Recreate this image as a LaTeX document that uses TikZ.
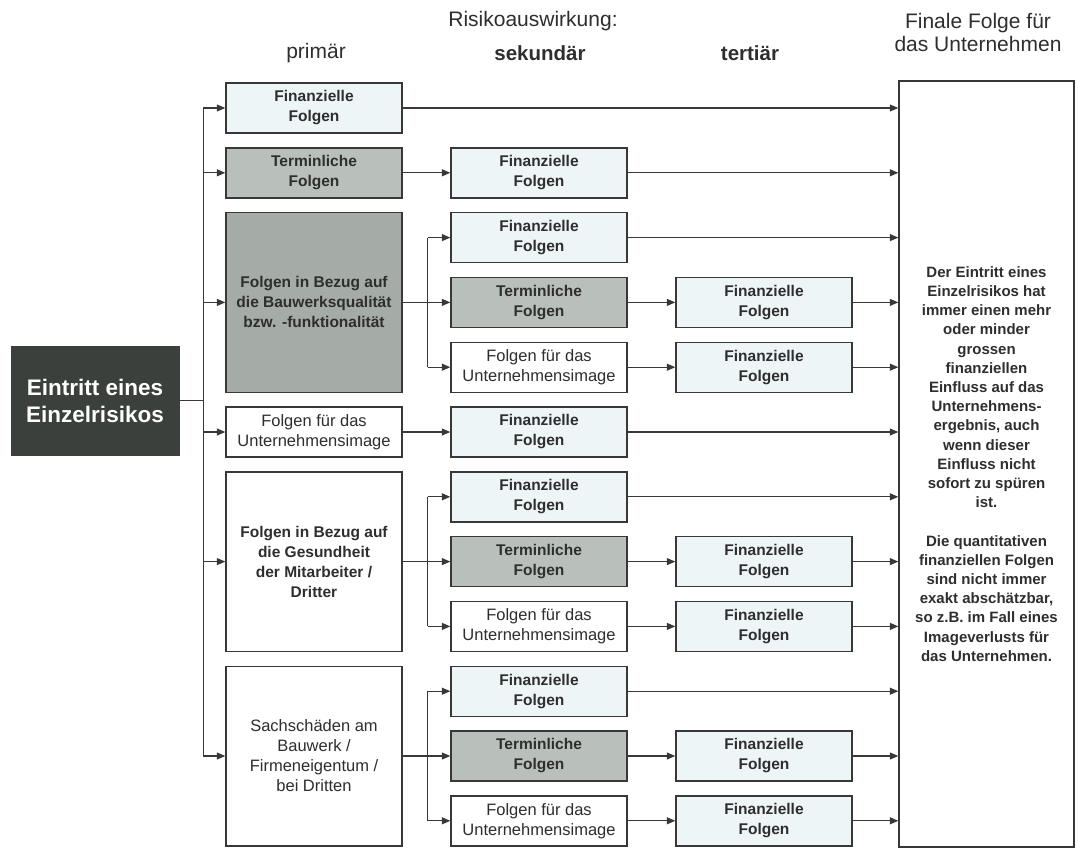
\documentclass[tikz,border=0pt]{standalone}
\usepackage{fontspec}
\setmainfont{Liberation Sans}
\usetikzlibrary{arrows.meta, positioning}

\definecolor{riskdark}{HTML}{3C403D}
\definecolor{finfill}{HTML}{EEF5F6}
\definecolor{termfill}{HTML}{B9C0BC}
\definecolor{qualfill}{HTML}{A5ABA7}
\definecolor{linegray}{HTML}{383838}
\definecolor{textgray}{HTML}{2E2E2E}

\tikzset{
  box/.style={draw=linegray, line width=1.4pt, minimum width=176pt, minimum height=50pt,
    inner sep=2pt, align=center, text=textgray, font=\fontsize{15.5}{20}\selectfont\bfseries},
  finbox/.style={box, fill=finfill},
  termbox/.style={box, fill=termfill},
  imagebox/.style={box, fill=white, font=\fontsize{16.5}{20}\selectfont},
  tallbox/.style={minimum height=179.6pt},
  heading/.style={text=textgray, align=center, font=\fontsize{21}{23}\selectfont},
  boldheading/.style={heading, font=\fontsize{20.5}{23}\selectfont\bfseries},
  wire/.style={draw=linegray, line width=1.1pt},
  flow/.style={wire, arrows = {-Triangle[length=8.5pt, width=7pt]}},
}

\begin{document}
\begin{tikzpicture}[x=1pt, y=1pt, node distance=225pt]
    \useasboundingbox (0,0) rectangle (1078,-849);

    % Headings
    \node[heading] (effect head) at (533,-21) {Risikoauswirkung:};
    \node[heading] (primary head) at (316,-53) {primär};
    \node[boldheading] (secondary head) at (540,-53) {sekundär};
    \node[boldheading] (tertiary head) at (750,-53) {tertiär};
    \node[heading] (final head) at (978,-32.5) {Finale Folge für\\das Unternehmen};

    % Nodes
    \node[draw=riskdark, fill=riskdark, minimum width=168pt, minimum height=109pt, text=white,
      align=center, font=\fontsize{22.5}{27}\selectfont\bfseries] (risk) at (95,-400.5) {Eintritt eines\\Einzelrisikos};

    \node[finbox] (p1) at (314,-108) {Finanzielle\\Folgen};
    \node[termbox, below of=p1, node distance=64.8pt] (p2) {Terminliche\\Folgen};
    \node[box, tallbox, fill=qualfill, below of=p2, node distance=129.6pt] (p3) {Folgen in Bezug auf\\die Bauwerksqualität\\bzw. -funktionalität};
    \node[imagebox, below of=p3, node distance=129.6pt] (p4) {Folgen für das\\Unternehmensimage};
    \node[box, tallbox, fill=white, below of=p4, node distance=129.6pt] (p5) {Folgen in Bezug auf\\die Gesundheit\\der Mitarbeiter /\\Dritter};
    \node[imagebox, tallbox, below of=p5, node distance=194.4pt] (p6) {Sachschäden am\\Bauwerk /\\Firmeneigentum /\\bei Dritten};

    \node[finbox, right of=p2] (s2) {Finanzielle\\Folgen};
    \node[termbox, right of=p3] (s3b) {Terminliche\\Folgen};
    \node[finbox, above of=s3b, node distance=64.8pt] (s3a) {Finanzielle\\Folgen};
    \node[imagebox, below of=s3b, node distance=64.8pt] (s3c) {Folgen für das\\Unternehmensimage};
    \node[finbox, right of=p4] (s4) {Finanzielle\\Folgen};
    \node[termbox, right of=p5] (s5b) {Terminliche\\Folgen};
    \node[finbox, above of=s5b, node distance=64.8pt] (s5a) {Finanzielle\\Folgen};
    \node[imagebox, below of=s5b, node distance=64.8pt] (s5c) {Folgen für das\\Unternehmensimage};
    \node[termbox, right of=p6] (s6b) {Terminliche\\Folgen};
    \node[finbox, above of=s6b, node distance=64.8pt] (s6a) {Finanzielle\\Folgen};
    \node[imagebox, below of=s6b, node distance=64.8pt] (s6c) {Folgen für das\\Unternehmensimage};

    \node[finbox, right of=s3b] (t3b) {Finanzielle\\Folgen};
    \node[finbox, right of=s3c] (t3c) {Finanzielle\\Folgen};
    \node[finbox, right of=s5b] (t5b) {Finanzielle\\Folgen};
    \node[finbox, right of=s5c] (t5c) {Finanzielle\\Folgen};
    \node[finbox, right of=s6b] (t6b) {Finanzielle\\Folgen};
    \node[finbox, right of=s6c] (t6c) {Finanzielle\\Folgen};

    \node[draw=linegray, line width=1.4pt, minimum width=175pt, minimum height=766pt, align=center,
      text=textgray, font=\fontsize{15}{19.2}\selectfont\bfseries] (final) at (986.5,-464)
      {Der Eintritt eines\\Einzelrisikos hat\\immer einen mehr\\oder minder\\grossen\\finanziellen\\Einfluss auf das\\Unternehmens-\\ergebnis, auch\\wenn dieser\\Einfluss nicht\\sofort zu spüren\\ist.\\[19.2pt]
       Die quantitativen\\finanziellen Folgen\\sind nicht immer\\exakt abschätzbar,\\so z.B. im Fall eines\\Imageverlusts für\\das Unternehmen.};

    % Connections
    \draw[wire] (risk.east) -- ++(24,0) coordinate (split);
    \draw[wire] (split |- p1) -- (split |- p6);
    \draw[flow] (split |- p1) -- (p1);
    \draw[flow] (split |- p2) -- (p2);
    \draw[flow] (split |- p3) -- (p3);
    \draw[flow] (split |- p4) -- (p4);
    \draw[flow] (split |- p5) -- (p5);
    \draw[flow] (split |- p6) -- (p6);

    \draw[flow] (p2) -- (s2);
    \draw[flow] (p4) -- (s4);

    \coordinate[right=25pt of p3.east] (fork3);
    \draw[wire] (fork3 |- s3a) -- (fork3 |- s3c);
    \draw[flow] (p3) -- (s3b);
    \draw[flow] (fork3 |- s3a) -- (s3a);
    \draw[flow] (fork3 |- s3c) -- (s3c);

    \coordinate[right=25pt of p5.east] (fork5);
    \draw[wire] (fork5 |- s5a) -- (fork5 |- s5c);
    \draw[flow] (p5) -- (s5b);
    \draw[flow] (fork5 |- s5a) -- (s5a);
    \draw[flow] (fork5 |- s5c) -- (s5c);

    \coordinate[right=25pt of p6.east] (fork6);
    \draw[wire] (fork6 |- s6a) -- (fork6 |- s6c);
    \draw[flow] (p6) -- (s6b);
    \draw[flow] (fork6 |- s6a) -- (s6a);
    \draw[flow] (fork6 |- s6c) -- (s6c);

    \draw[flow] (s3b) -- (t3b);
    \draw[flow] (s3c) -- (t3c);
    \draw[flow] (s5b) -- (t5b);
    \draw[flow] (s5c) -- (t5c);
    \draw[flow] (s6b) -- (t6b);
    \draw[flow] (s6c) -- (t6c);

    \draw[flow] (p1) -- (p1 -| final.west);
    \draw[flow] (s2) -- (s2 -| final.west);
    \draw[flow] (s3a) -- (s3a -| final.west);
    \draw[flow] (t3b) -- (t3b -| final.west);
    \draw[flow] (t3c) -- (t3c -| final.west);
    \draw[flow] (s4) -- (s4 -| final.west);
    \draw[flow] (s5a) -- (s5a -| final.west);
    \draw[flow] (t5b) -- (t5b -| final.west);
    \draw[flow] (t5c) -- (t5c -| final.west);
    \draw[flow] (s6a) -- (s6a -| final.west);
    \draw[flow] (t6b) -- (t6b -| final.west);
    \draw[flow] (t6c) -- (t6c -| final.west);
\end{tikzpicture}
\end{document}
